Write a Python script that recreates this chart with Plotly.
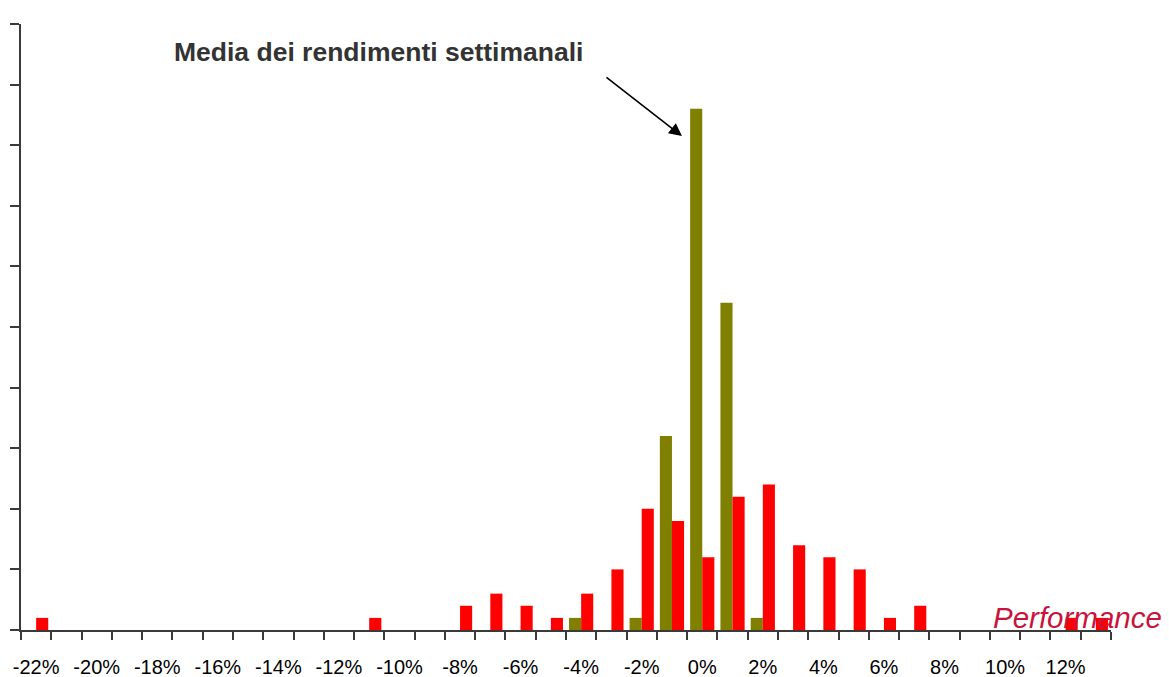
import plotly.graph_objects as go

# Categories: weekly performance buckets (%)
categories = [f"{v}%" for v in range(-22, 14)]
# tick labels shown every second category
tick_labels = [c if i % 2 == 0 else "" for i, c in enumerate(categories)]

# olive series (counts)
olive_values = [0, 0, 0, 0, 0, 0, 0, 0, 0, 0, 0, 0, 0, 0, 0, 0, 0, 0,
                1, 0, 1, 16, 43, 27, 1, 0, 0, 0, 0, 0, 0, 0, 0, 0, 0, 0]
# red series (counts)
red_values = [1, 0, 0, 0, 0, 0, 0, 0, 0, 0, 0, 1, 0, 0, 2, 3, 2, 1,
              3, 5, 10, 9, 6, 11, 12, 7, 6, 5, 1, 2, 0, 0, 0, 0, 1, 1]

fig = go.Figure()
fig.add_trace(go.Bar(x=categories, y=olive_values, marker=dict(color="#808000", line=dict(width=0)),
                     name="Media"))
fig.add_trace(go.Bar(x=categories, y=red_values, marker=dict(color="#FF0000", line=dict(width=0)),
                     name="Rendimenti"))

axis_col = "#3a3a3a"
fig.update_layout(
    width=1161, height=669,
    margin=dict(l=13, r=58, t=16, b=47, autoexpand=False),
    paper_bgcolor="white", plot_bgcolor="white",
    barmode="group", bargap=0.2, bargroupgap=0,
    showlegend=False,
    font=dict(family="Liberation Sans, Arial, sans-serif", color="black"),
    xaxis=dict(
        type="category",
        tickmode="array", tickvals=categories, ticktext=tick_labels,
        tickson="boundaries", tickangle=0, automargin=False,
        ticks="outside", ticklen=8, tickwidth=1.5, tickcolor=axis_col,
        showline=True, linecolor=axis_col, linewidth=1.5,
        showgrid=False, zeroline=False,
        tickfont=dict(size=20, family="Liberation Sans, Arial, sans-serif", color="black"),
        ticklabelstandoff=18,
    ),
    yaxis=dict(
        range=[0, 50], dtick=5, tick0=0, automargin=False,
        ticks="outside", ticklen=9, tickwidth=1.5, tickcolor=axis_col,
        showline=True, linecolor=axis_col, linewidth=1.5,
        showgrid=False, zeroline=False, showticklabels=False,
    ),
)

fig.add_annotation(
    xref="paper", yref="paper", x=0.328, y=0.954,
    text="<b>Media dei rendimenti settimanali</b>", showarrow=False,
    font=dict(size=26.5, color="#333333", family="Liberation Sans, Arial, sans-serif"),
    xanchor="center", yanchor="middle",
)
fig.add_annotation(
    xref="paper", yref="paper", x=0.6064, y=0.815,
    text="", showarrow=True, ax=-77, ay=-60,
    arrowhead=2, arrowsize=1.6, arrowwidth=1.6, arrowcolor="black",
)
fig.add_annotation(
    xref="paper", yref="paper", x=1.049, y=0.02,
    text="<i>Performance</i>", showarrow=False,
    font=dict(size=29.5, color="#C8143C", family="Liberation Sans, Arial, sans-serif"),
    xanchor="right", yanchor="middle",
)

fig.write_html("out.html")
